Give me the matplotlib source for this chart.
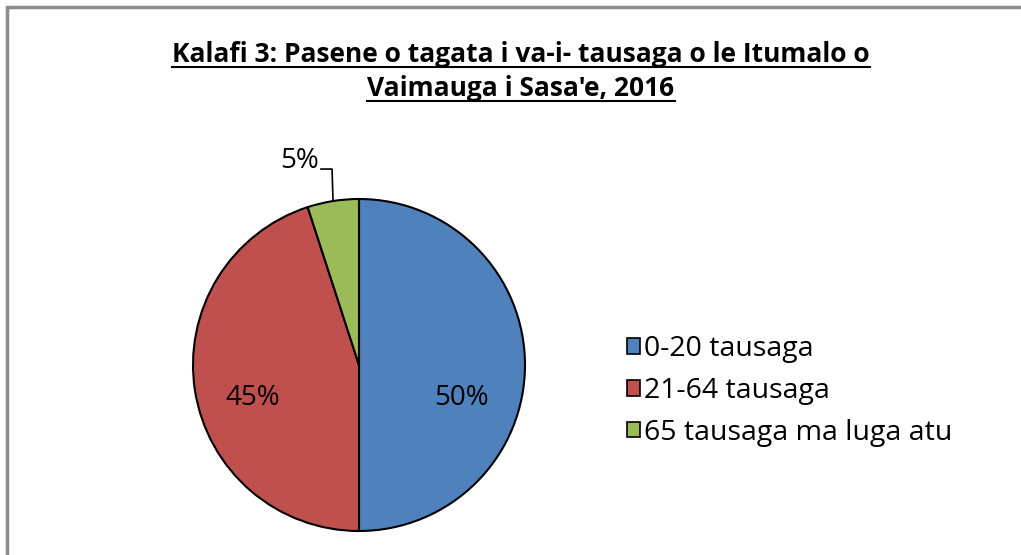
import numpy as np
import matplotlib
matplotlib.use('Agg')
import matplotlib.pyplot as plt
from matplotlib.patches import Rectangle

title = "Kalafi 3: Pasene o tagata i va-i- tausaga o le Itumalo o\nVaimauga i Sasa'e, 2016"
categories = ['0-20 tausaga', '21-64 tausaga', '65 tausaga ma luga atu']
values = [50, 45, 5]
colors = ['#4F81BD', '#C0504D', '#9BBB59']

W, H = 1021, 555
fig = plt.figure(figsize=(W/100, H/100), dpi=100)
ax = fig.add_axes([0, 0, 1, 1])

def Y(y):
    # pixel row (from top) -> data y
    return H - y

# frame of the chart area (cut off at right/bottom)
ax.add_patch(Rectangle((7, Y(7) - H), W, H, fill=False, edgecolor='#8c8c8c', lw=2.5))

cx, cy, r = 359, Y(365), 166
wedges, _ = ax.pie(values, colors=colors, startangle=90, counterclock=False,
                   center=(cx, cy), radius=r, frame=True,
                   wedgeprops=dict(edgecolor='black', linewidth=1.5))
ax.set_xlim(0, W)
ax.set_ylim(0, H)
ax.set_aspect('equal')
ax.axis('off')

fs = 20
fam = ['Open Sans', 'DejaVu Sans']
# percentage labels
ax.text(cx + 102, cy - 33, f'{values[0]}%', fontsize=fs, family=fam, ha='center', va='center')
ax.text(cx - 106, cy - 33, f'{values[1]}%', fontsize=fs, family=fam, ha='center', va='center')
# small slice: label outside with leader line
w = wedges[2]
mid = np.deg2rad((w.theta1 + w.theta2) / 2)
ex, ey = cx + r*np.cos(mid), cy + r*np.sin(mid)
ax.plot([ex, ex - 1, ex - 12], [ey, ey + 32, ey + 32], color='black', lw=1.2)
ax.text(ex - 14, ey + 40, f'{values[2]}%', fontsize=fs, family=fam, ha='right', va='center')

# title with underline
tfs = 19
lines = title.split('\n')
fig.canvas.draw()
rend = fig.canvas.get_renderer()
inv = ax.transData.inverted()
for line, yc, yu in zip(lines, [55, 89], [67, 101]):
    t = ax.text(521, Y(yc), line, fontsize=tfs, fontweight='bold', family=fam,
                ha='center', va='center')
    bb = t.get_window_extent(rend)
    x0 = inv.transform((bb.x0, 0))[0]
    x1 = inv.transform((bb.x1, 0))[0]
    ax.plot([x0, x1], [Y(yu), Y(yu)], color='black', lw=1.5)

lfs = 20.5
handles = [Rectangle((0, 0), 1, 1, facecolor=c, edgecolor='black', lw=1.2) for c in colors]
leg = ax.legend(handles, categories, loc='center left', bbox_to_anchor=(627/W, 1 - 391/H),
                bbox_transform=fig.transFigure, frameon=False, borderpad=0, borderaxespad=0,
                prop={'family': fam, 'size': lfs},
                handlelength=0.47, handleheight=0.47, handletextpad=0.12, labelspacing=0.48)

fig.savefig('out.png', dpi=100, facecolor='white')
